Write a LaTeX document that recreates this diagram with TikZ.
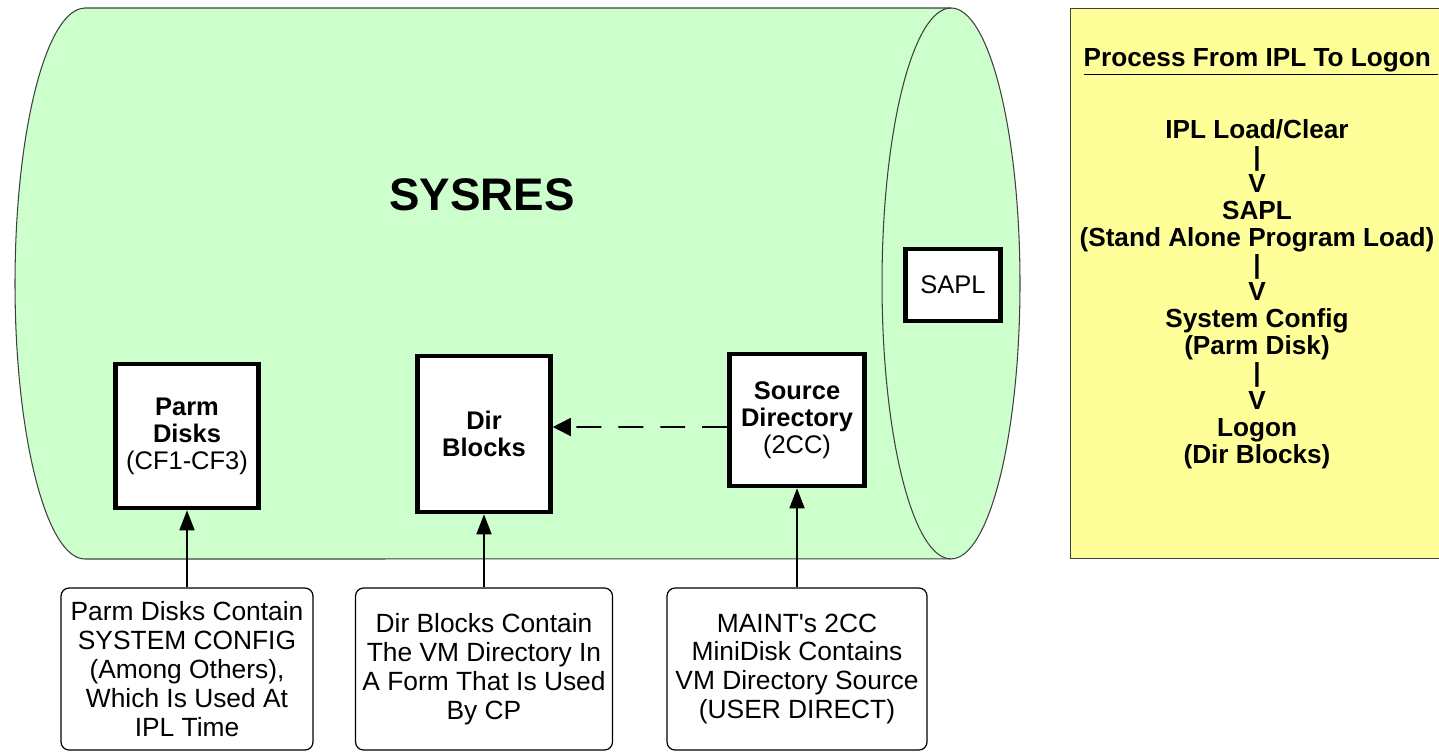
\documentclass[tikz,border=0pt]{standalone}
\usepackage{fontspec}
\setmainfont{Liberation Sans}
\usetikzlibrary{arrows.meta}
\definecolor{diskgreen}{HTML}{CCFFCC}
\definecolor{procyellow}{HTML}{FFFF99}
\definecolor{rimgray}{HTML}{404040}

\begin{document}
\begin{tikzpicture}[x=0.02cm, y=0.02cm, thick,
        disk/.style = {draw, line width=2.6pt, fill=white, align=center, inner sep=2pt, font=\fontsize{14.5}{15.4}\selectfont},
        note/.style = {draw, line width=0.7pt, rounded corners=0.16cm, fill=white, align=center, minimum height=3.24cm, font=\fontsize{15}{16.5}\selectfont},
        tip/.style = {-{Triangle[length=0.4cm, width=0.3cm]}, line width=0.9pt}]
        \useasboundingbox (0,0) rectangle (1439,-754);

        % the SYSRES volume
        \draw[fill=diskgreen, draw=rimgray, line width=0.6pt] (85,-8) -- (951,-8)
            arc[start angle=90, end angle=-90, x radius=1.38cm, y radius=5.51cm] -- (85,-559)
            arc[start angle=270, end angle=90, x radius=1.4cm, y radius=5.51cm] -- cycle;
        \draw[rimgray, line width=0.6pt] (951,-8) arc[start angle=90, end angle=270, x radius=1.38cm, y radius=5.51cm];

        \node[font={\fontsize{26}{30}\selectfont\bfseries}] (0) at (482,-195) {SYSRES};

        \node[disk, minimum width=2.86cm, minimum height=2.88cm] (1) at (187,-436) {\textbf{Parm}\\\textbf{Disks}\\(CF1-CF3)};
        \node[disk, minimum width=2.66cm, minimum height=3.12cm] (2) at (484,-434) {\textbf{Dir}\\\textbf{Blocks}};
        \node[disk, minimum width=2.7cm, minimum height=2.64cm] (3) at (797,-420) {\textbf{Source}\\\textbf{Directory}\\(2CC)};
        \node[disk, minimum width=1.9cm, minimum height=1.44cm] (4) at (953,-285) {SAPL};

        \node[note, minimum width=5.04cm] (5) at (187,-669) {Parm Disks Contain\\SYSTEM CONFIG\\(Among Others),\\Which Is Used At\\IPL Time};
        \node[note, minimum width=5.14cm] (6) at (484,-669) {Dir Blocks Contain\\The VM Directory In\\A Form That Is Used\\By CP};
        \node[note, minimum width=5.2cm] (7) at (797,-669) {MAINT\textquotesingle s 2CC\\MiniDisk Contains\\VM Directory Source\\(USER DIRECT)};

        \draw[tip] (5) -- (1);
        \draw[tip] (6) -- (2);
        \draw[tip] (7) -- (3);
        \draw[-{Triangle[length=0.36cm, width=0.36cm]}, line width=0.9pt] ([yshift=-0.14cm]3.west) -- ([yshift=0.14cm]2.east) [dash pattern=on 0.5cm off 0.34cm];

        % process legend
        \node[draw=rimgray, fill=procyellow, line width=0.8pt, minimum width=7.6cm, minimum height=11cm, anchor=north west] (8) at (1070,-8) {};
        \node[anchor=base west, inner sep=0pt, font={\fontsize{14.9}{15.4}\selectfont\bfseries}] (9) at ([shift={(13,-58)}]8.north west) {\underline{Process From IPL To Logon\ }};
        \node[align=center, font={\fontsize{14.9}{15.4}\selectfont\bfseries}] (10) at (1257,-294)
            {IPL Load/Clear\\|\\V\\SAPL\\(Stand Alone Program Load)\\|\\V\\System Config\\(Parm Disk)\\|\\V\\Logon\\(Dir Blocks)};

    \end{tikzpicture}
\end{document}
